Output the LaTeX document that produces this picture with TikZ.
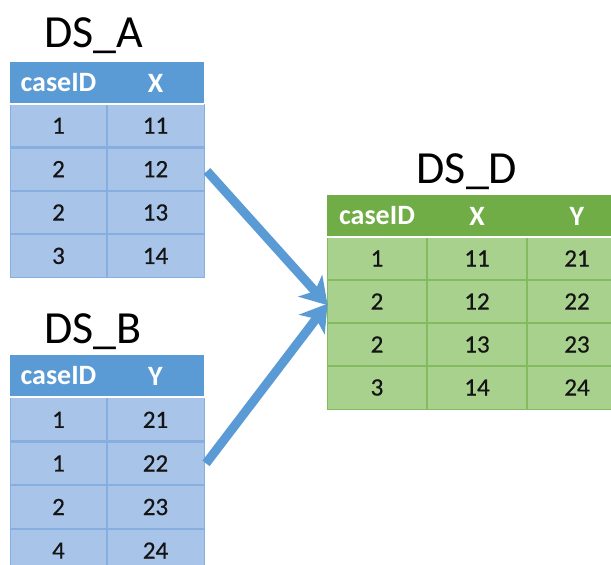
\documentclass[tikz,border=0pt]{standalone}
\usepackage{fontspec}
\setmainfont{Carlito}
\newfontfamily\numfont[FakeBold=0.5]{Carlito}
\usetikzlibrary{arrows.meta}
\definecolor{bhead}{HTML}{5B9BD5}
\definecolor{bcellc}{HTML}{A8C5E9}
\definecolor{bline}{HTML}{86AFDF}
\definecolor{ghead}{HTML}{70AD47}
\definecolor{gcellc}{HTML}{A9D18E}
\definecolor{gline}{HTML}{84BB60}
\definecolor{txt}{HTML}{141414}
\tikzset{
  cellbase/.style={inner sep=0pt, outer sep=0pt, anchor=north west, minimum width=97pt},
  bhd/.style={cellbase, fill=bhead, text=white, font=\fontsize{28}{28}\selectfont\bfseries, minimum height=42pt},
  bcl/.style={cellbase, fill=bcellc, text=txt, font=\numfont\fontsize{25}{25}\selectfont, minimum height=43.4pt},
  ghd/.style={bhd, fill=ghead, minimum width=100pt},
  gcl/.style={bcl, fill=gcellc, minimum width=100pt, minimum height=43pt},
  title/.style={anchor=base, inner sep=0pt, font=\fontsize{46}{46}\selectfont, text=black},
  bsep/.style={draw=bline, line width=2.5pt},
  gsep/.style={draw=gline, line width=2.5pt},
  wsep/.style={draw=white, line width=1.5pt},
  mergearrow/.style={draw=bhead, line width=9pt, -{Stealth[length=26pt, width=32pt, inset=7pt]}, shorten >=-1pt}
}
\begin{document}
\begin{tikzpicture}[x=1pt, y=1pt]
\useasboundingbox (0,0) rectangle (611,-565);
\fill[white] (0,0) rectangle (611,-565);

% ---------- DS_A ----------
\node[title] (tA) at (94,-47) {DS\_A};
\node[bhd] (A-0-1) at (10,-62) {caseID};
\node[bhd, anchor=west] (A-0-2) at (A-0-1.east) {X};
\foreach \i/\a/\b [evaluate=\i as \yy using {-104-(\i-1)*43.4}] in {1/1/11,2/2/12,3/2/13,4/3/14} {
  \node[bcl] (A-\i-1) at (10,\yy) {\a};
  \node[bcl, anchor=west] (A-\i-2) at (A-\i-1.east) {\b};
}
\foreach \i in {1,2,3} \draw[bsep] (A-\i-1.south west) -- (A-\i-2.south east);
\draw[bsep] (A-1-1.north east) -- (A-4-1.south east);
\draw[bline, line width=1pt] (A-1-1.north west) -- (A-4-1.south west) -- (A-4-2.south east) -- (A-1-2.north east);
\draw[wsep] (A-0-1.south west) -- (A-0-2.south east);

% ---------- DS_B ----------
\node[title] (tB) at (93,-343) {DS\_B};
\node[bhd] (B-0-1) at (10,-355) {caseID};
\node[bhd, anchor=west] (B-0-2) at (B-0-1.east) {Y};
\foreach \i/\a/\b [evaluate=\i as \yy using {-398-(\i-1)*43.6}] in {1/1/21,2/1/22,3/2/23,4/4/24} {
  \node[bcl, minimum height=43.6pt] (B-\i-1) at (10,\yy) {\a};
  \node[bcl, minimum height=43.6pt, anchor=west] (B-\i-2) at (B-\i-1.east) {\b};
}
\foreach \i in {1,2,3} \draw[bsep] (B-\i-1.south west) -- (B-\i-2.south east);
\draw[bsep] (B-1-1.north east) -- (B-4-1.south east);
\draw[bline, line width=1pt] (B-1-1.north west) -- (B-4-1.south west) -- (B-4-2.south east) -- (B-1-2.north east);
\draw[wsep] (B-0-1.south west) -- (B-0-2.south east);

% ---------- DS_D ----------
\node[title] (tD) at (467,-183) {DS\_D};
\node[ghd] (D-0-1) at (327,-195) {caseID};
\node[ghd, anchor=west] (D-0-2) at (D-0-1.east) {X};
\node[ghd, anchor=west] (D-0-3) at (D-0-2.east) {Y};
\foreach \i/\a/\b/\c [evaluate=\i as \yy using {-237-(\i-1)*43}] in {1/1/11/21,2/2/12/22,3/2/13/23,4/3/14/24} {
  \node[gcl] (D-\i-1) at (327,\yy) {\a};
  \node[gcl, anchor=west] (D-\i-2) at (D-\i-1.east) {\b};
  \node[gcl, anchor=west] (D-\i-3) at (D-\i-2.east) {\c};
}
\foreach \i in {1,2,3} \draw[gsep] (D-\i-1.south west) -- (D-\i-3.south east);
\draw[gsep] (D-1-1.north east) -- (D-4-1.south east);
\draw[gsep] (D-1-2.north east) -- (D-4-2.south east);
\draw[gline, line width=1pt] (D-1-1.north west) -- (D-4-1.south west) -- (D-4-3.south east);
\draw[wsep] (D-0-1.south west) -- (D-0-3.south east);

% ---------- arrows ----------
\coordinate (tip) at ([yshift=-3pt]D-2-1.west);
\draw[mergearrow] ([shift={(3pt,-2pt)}]A-2-2.east) -- (tip);
\draw[mergearrow] ([shift={(2pt,0pt)}]B-2-2.east) -- (tip);
\end{tikzpicture}
\end{document}
